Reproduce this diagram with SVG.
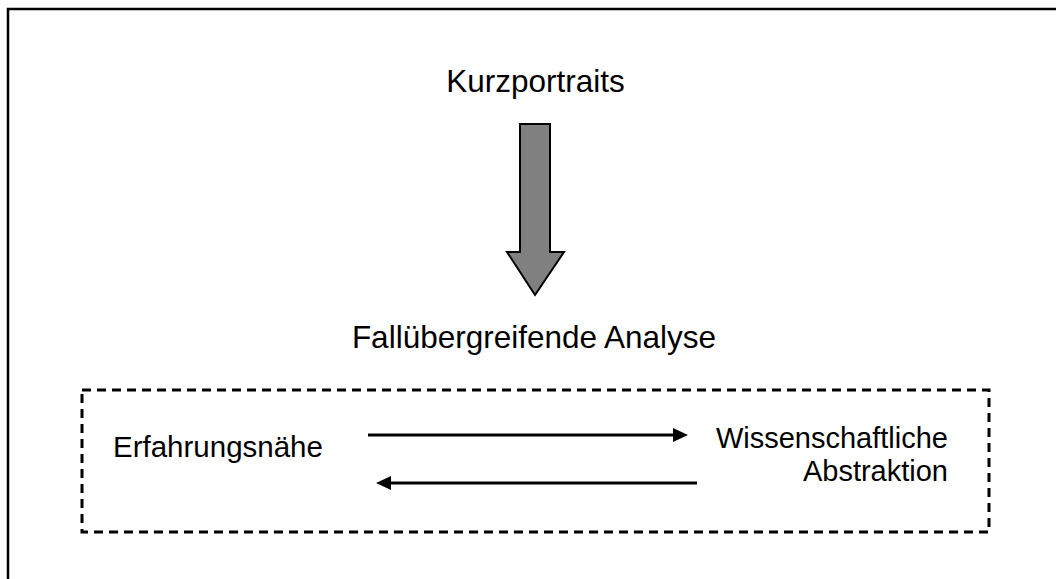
<svg xmlns="http://www.w3.org/2000/svg" width="1056" height="579" viewBox="0 0 1056 579">
  <style>
    .label { font-family: "Liberation Sans", Arial, sans-serif; fill: #000; }
    .big { font-size: 31.5px; }
    .small { font-size: 29px; }
    .link { stroke: #000; stroke-width: 3; fill: none; }
    .head { fill: #000; stroke: none; }
  </style>
  <rect width="1056" height="579" fill="#fff"/>

  <!-- frame: top and left edges -->
  <path d="M8 590 V9 H1070" fill="none" stroke="#000" stroke-width="2.5"/>

  <g id="kurzportraits">
    <text class="label big" x="535.5" y="92" text-anchor="middle">Kurzportraits</text>
  </g>

  <g id="flow-arrow">
    <polygon points="520,124 550,124 550,252 564,252 535,295 507,252 520,252" fill="#808080" stroke="#000" stroke-width="2" stroke-linejoin="miter"/>
  </g>

  <g id="analyse">
    <text class="label big" x="534" y="348" text-anchor="middle">Fallübergreifende Analyse</text>
  </g>

  <g id="analyse-box">
    <rect x="82" y="390" width="907" height="142" fill="none" stroke="#000" stroke-width="3" stroke-dasharray="9 6"/>
  </g>

  <g id="erfahrungsnaehe">
    <text class="label small" x="113" y="457" style="font-size:29.5px">Erfahrungsnähe</text>
  </g>

  <g id="abstraktion">
    <text class="label small" x="948" y="448" text-anchor="end">Wissenschaftliche</text>
    <text class="label small" x="948" y="481" text-anchor="end">Abstraktion</text>
  </g>

  <g id="connectors">
    <line class="link" x1="368" y1="435" x2="675" y2="435"/>
    <polygon class="head" points="673,428 688,435 673,442"/>
    <line class="link" x1="390" y1="483" x2="697" y2="483"/>
    <polygon class="head" points="391,476 376,483 391,490"/>
  </g>
</svg>
